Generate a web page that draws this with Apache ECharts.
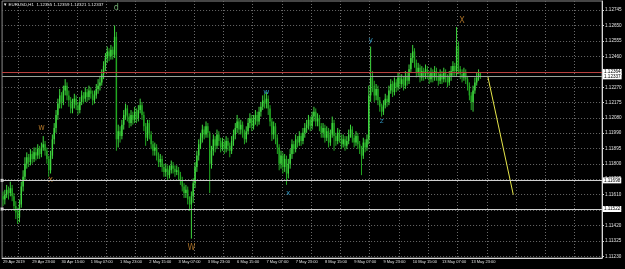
<!DOCTYPE html>
<html>
<head>
<meta charset="utf-8">
<script src="https://cdn.jsdelivr.net/npm/echarts@6/dist/echarts.min.js"></script>
<style>
html, body { margin: 0; padding: 0; background: #000; }
#chart { width: 625px; height: 269px; }
</style>
</head>
<body>
<div id="chart"></div>
<script>
// EURUSD H1, first bar 29 Apr 2019 07:00 (open of bar 0, later opens = previous close)
const firstOpen = 1.1160;
const closes = [
  1.1158,1.1161,1.1164,1.1162,1.1165,1.1160,1.1154,1.1150,1.1147,1.1155,
  1.1166,1.1172,1.1180,1.1184,1.1181,1.1186,1.1183,1.1187,1.1185,1.1189,
  1.1186,1.1190,1.1192,1.1188,1.1183,1.1176,1.1185,1.1195,1.1202,1.1210,
  1.1217,1.1222,1.1218,1.1225,1.1228,1.1222,1.1219,1.1214,1.1217,1.1220,
  1.1216,1.1213,1.1218,1.1222,1.1220,1.1224,1.1221,1.1225,1.1223,1.1219,
  1.1222,1.1226,1.1228,1.1230,1.1235,1.1240,1.1245,1.1249,1.1246,1.1250,
  1.1247,1.1258,1.1195,1.1200,1.1197,1.1204,1.1210,1.1214,1.1209,1.1205,
  1.1210,1.1207,1.1212,1.1208,1.1213,1.1216,1.1210,1.1203,1.1196,1.1205,
  1.1198,1.1192,1.1188,1.1190,1.1185,1.1181,1.1183,1.1178,1.1175,1.1177,
  1.1173,1.1176,1.1179,1.1177,1.1175,1.1176,1.1173,1.1170,1.1166,1.1162,
  1.1164,1.1158,1.1155,1.1160,1.1168,1.1178,1.1185,1.1192,1.1196,1.1201,
  1.1198,1.1203,1.1199,1.1180,1.1188,1.1195,1.1191,1.1198,1.1194,1.1190,
  1.1193,1.1189,1.1194,1.1191,1.1188,1.1194,1.1198,1.1202,1.1206,1.1201,
  1.1204,1.1199,1.1195,1.1200,1.1205,1.1208,1.1203,1.1207,1.1210,1.1206,
  1.1212,1.1215,1.1219,1.1217,1.1220,1.1214,1.1206,1.1198,1.1203,1.1196,
  1.1190,1.1180,1.1185,1.1178,1.1183,1.1174,1.1180,1.1186,1.1192,1.1189,
  1.1195,1.1193,1.1197,1.1194,1.1199,1.1202,1.1204,1.1207,1.1203,1.1209,
  1.1212,1.1206,1.1208,1.1203,1.1199,1.1202,1.1196,1.1200,1.1193,1.1198,
  1.1205,1.1197,1.1194,1.1199,1.1196,1.1192,1.1195,1.1191,1.1194,1.1198,
  1.1201,1.1196,1.1193,1.1197,1.1192,1.1189,1.1185,1.1193,1.1190,1.1195,
  1.1222,1.1233,1.1228,1.1222,1.1226,1.1219,1.1215,1.1212,1.1216,1.1220,
  1.1218,1.1225,1.1229,1.1224,1.1230,1.1227,1.1233,1.1229,1.1232,1.1228,
  1.1234,1.1231,1.1238,1.1245,1.1249,1.1242,1.1236,1.1239,1.1233,1.1237,
  1.1234,1.1238,1.1235,1.1232,1.1236,1.1233,1.1237,1.1234,1.1231,1.1235,
  1.1232,1.1236,1.1233,1.1230,1.1234,1.1237,1.1240,1.1237,1.1252,1.1238,
  1.1235,1.1233,1.1236,1.1232,1.1228,1.1222,1.1218,1.1225,1.1230,1.1233,
  1.12355,1.12337
];
const highs = [
  1.1163,1.1164,1.1167,1.1166,1.1169,1.1167,1.1162,1.1157,1.1153,1.1158,
  1.1169,1.1176,1.1184,1.1187,1.1186,1.1189,1.1188,1.1190,1.1190,1.1192,
  1.1191,1.1193,1.1197,1.1194,1.1190,1.1185,1.1188,1.1198,1.1205,1.1213,
  1.1220,1.1226,1.1224,1.1228,1.1232,1.1230,1.1225,1.1221,1.1220,1.1223,
  1.1222,1.1218,1.1221,1.1225,1.1224,1.1227,1.1226,1.1228,1.1227,1.1225,
  1.1225,1.1229,1.1232,1.1234,1.1238,1.1243,1.1248,1.1252,1.1251,1.1253,
  1.1252,1.1265,1.1261,1.1204,1.1203,1.1207,1.1213,1.1217,1.1216,1.1211,
  1.1213,1.1212,1.1215,1.1214,1.1216,1.1220,1.1218,1.1212,1.1205,1.1207,
  1.1207,1.1200,1.1194,1.1193,1.1192,1.1187,1.1186,1.1185,1.1180,1.1180,
  1.1179,1.1179,1.1182,1.1181,1.1179,1.1179,1.1178,1.1175,1.1172,1.1168,
  1.1167,1.1166,1.1160,1.1163,1.1171,1.1181,1.1188,1.1195,1.1199,1.1204,
  1.1203,1.1206,1.1205,1.1200,1.1191,1.1198,1.1197,1.1201,1.1200,1.1196,
  1.1196,1.1195,1.1197,1.1196,1.1193,1.1197,1.1201,1.1205,1.1210,1.1208,
  1.1207,1.1206,1.1201,1.1203,1.1208,1.1211,1.1210,1.1210,1.1213,1.1212,
  1.1215,1.1218,1.1222,1.1223,1.1224,1.1222,1.1216,1.1208,1.1206,1.1205,
  1.1198,1.1192,1.1188,1.1187,1.1186,1.1185,1.1183,1.1189,1.1195,1.1194,
  1.1198,1.1197,1.1200,1.1199,1.1202,1.1205,1.1207,1.1210,1.1209,1.1212,
  1.1215,1.1214,1.1211,1.1210,1.1205,1.1205,1.1204,1.1203,1.1202,1.1201,
  1.1209,1.1207,1.1199,1.1202,1.1201,1.1198,1.1198,1.1197,1.1197,1.1201,
  1.1204,1.1203,1.1198,1.1200,1.1199,1.1194,1.1191,1.1196,1.1195,1.1198,
  1.1228,1.1252,1.1237,1.1231,1.1229,1.1228,1.1221,1.1217,1.1219,1.1223,
  1.1222,1.1228,1.1232,1.1231,1.1233,1.1232,1.1236,1.1235,1.1235,1.1234,
  1.1237,1.1236,1.1241,1.1248,1.1253,1.1251,1.1244,1.1242,1.1241,1.1240,
  1.1239,1.1241,1.1240,1.1237,1.1239,1.1238,1.1240,1.1239,1.1236,1.1238,
  1.1237,1.1239,1.1238,1.1235,1.1237,1.1240,1.1243,1.1242,1.1264,1.1255,
  1.1240,1.1238,1.1239,1.1238,1.1234,1.1230,1.1224,1.1228,1.1233,1.1236,
  1.1238,1.12359
];
const lows = [
  1.1154,1.1155,1.1159,1.1158,1.1160,1.1157,1.1151,1.1146,1.1143,1.1144,
  1.1153,1.1163,1.1170,1.1177,1.1178,1.1179,1.1180,1.1181,1.1182,1.1183,
  1.1183,1.1184,1.1188,1.1185,1.1180,1.1172,1.1174,1.1183,1.1192,1.1199,
  1.1207,1.1214,1.1214,1.1216,1.1222,1.1219,1.1215,1.1211,1.1211,1.1214,
  1.1213,1.1210,1.1211,1.1216,1.1217,1.1218,1.1218,1.1219,1.1220,1.1216,
  1.1217,1.1220,1.1223,1.1225,1.1228,1.1232,1.1237,1.1242,1.1243,1.1244,
  1.1244,1.1245,1.1188,1.1190,1.1193,1.1195,1.1201,1.1207,1.1206,1.1202,
  1.1203,1.1204,1.1205,1.1205,1.1206,1.1211,1.1207,1.1200,1.1191,1.1194,
  1.1195,1.1189,1.1185,1.1185,1.1182,1.1178,1.1178,1.1175,1.1172,1.1172,
  1.1170,1.1171,1.1174,1.1174,1.1172,1.1173,1.1170,1.1167,1.1163,1.1159,
  1.1159,1.1155,1.1151,1.1134,1.1156,1.1165,1.1175,1.1182,1.1189,1.1193,
  1.1195,1.1196,1.1196,1.1162,1.1177,1.1185,1.1187,1.1189,1.1191,1.1187,
  1.1188,1.1186,1.1187,1.1188,1.1184,1.1186,1.1191,1.1195,1.1199,1.1198,
  1.1198,1.1196,1.1192,1.1193,1.1198,1.1202,1.1200,1.1201,1.1204,1.1203,
  1.1204,1.1209,1.1213,1.1214,1.1214,1.1210,1.1203,1.1194,1.1195,1.1192,
  1.1186,1.1176,1.1177,1.1174,1.1175,1.1167,1.1171,1.1177,1.1183,1.1186,
  1.1187,1.1190,1.1191,1.1191,1.1192,1.1196,1.1199,1.1201,1.1200,1.1201,
  1.1206,1.1203,1.1203,1.1200,1.1196,1.1196,1.1193,1.1194,1.1190,1.1191,
  1.1196,1.1188,1.1191,1.1192,1.1193,1.1189,1.1190,1.1188,1.1189,1.1192,
  1.1196,1.1193,1.1190,1.1191,1.1189,1.1186,1.1173,1.1183,1.1187,1.1188,
  1.1192,1.1218,1.1224,1.1218,1.1219,1.1216,1.1212,1.1209,1.1210,1.1214,
  1.1215,1.1216,1.1223,1.1221,1.1222,1.1224,1.1225,1.1226,1.1227,1.1225,
  1.1226,1.1228,1.1229,1.1236,1.1242,1.1239,1.1233,1.1234,1.1230,1.1231,
  1.1231,1.1232,1.1232,1.1229,1.1230,1.1230,1.1231,1.1231,1.1228,1.1229,
  1.1229,1.1230,1.1230,1.1227,1.1228,1.1231,1.1234,1.1234,1.1234,1.1235,
  1.1232,1.1230,1.1231,1.1229,1.1225,1.1219,1.1213,1.1212,1.1223,1.1228,
  1.1231,1.12321
];

// price scale labels as printed on the right
const priceTicks = [1.11230, 1.11325, 1.11420, 1.11515, 1.11610, 1.11705, 1.11800, 1.11895,
  1.11990, 1.12080, 1.12175, 1.12270, 1.12365, 1.12460, 1.12555, 1.12650, 1.12745];

// horizontal levels
const supportLevels = [1.11698, 1.11522];
const quoteLevels = [1.12364, 1.12337];
const quoteColors = ['#b8413f', '#9aa39a'];

// yellow projection line
const projIdx = [265, 279];
const projPrice = [1.1234, 1.1161];

// wave labels [bar index, price, text]
const orangeLabels = [[21, 1.1202, 'w'], [26, 1.1170, 'x'], [103, 1.1128, 'W'], [251, 1.1268, 'X']];
const cyanLabels = [[144, 1.1224, 'w'], [156, 1.1162, 'x'], [201, 1.1256, 'y'], [207, 1.1206, 'z']];
const greenLabels = [[62, 1.12757, 'd']];

const months = ['Jan','Feb','Mar','Apr','May','Jun','Jul','Aug','Sep','Oct','Nov','Dec'];
const times = [];
let t = Date.UTC(2019, 3, 29, 7);
while (times.length < 328) {
    const d = new Date(t);
    if (d.getUTCDay() === 6) { t += 48 * 3600e3; continue; }
    times.push(d.getUTCDate() + ' ' + months[d.getUTCMonth()] + ' ' +
        String(d.getUTCHours()).padStart(2, '0') + ':00');
    t += 3600e3;
}

const opens = closes.map((c, i) => i ? closes[i - 1] : firstOpen);
const bars = closes.map((c, i) => [i, opens[i], c, lows[i], highs[i]]);

const bullColor = '#3fd83f';
const bearColor = '#22a822';

// plain MT4 style candle: wick line + thin body
function renderBar(params, api) {
    const i = api.value(0);
    const o = api.value(1), c = api.value(2);
    const hi = api.coord([i, api.value(4)]);
    const lo = api.coord([i, api.value(3)]);
    const top = api.coord([i, Math.max(o, c)]);
    const bot = api.coord([i, Math.min(o, c)]);
    const col = c >= o ? bullColor : bearColor;
    return {
        type: 'group',
        children: [
            { type: 'line', shape: { x1: hi[0], y1: hi[1], x2: lo[0], y2: lo[1] }, style: { stroke: col, lineWidth: 1 } },
            { type: 'rect', shape: { x: top[0] - 0.7, y: top[1], width: 1.4, height: Math.max(bot[1] - top[1], 0.6) }, style: { fill: col } }
        ]
    };
}

const font = 'Liberation Sans';
const levelLabel = {
    show: true, position: 'end', distance: 1,
    formatter: p => Number(p.value).toFixed(5),
    color: '#000', backgroundColor: '#fff', fontSize: 4.6, fontFamily: font,
    padding: [0.5, 1]
};

const textSeries = (data, color, size) => ({
    type: 'scatter',
    data: data,
    symbolSize: 0,
    silent: true,
    label: {
        show: true, position: 'inside', formatter: p => p.data[2],
        color: color, fontSize: size, fontFamily: 'DejaVu Sans'
    }
});

const chart = echarts.init(document.getElementById('chart'));
chart.setOption({
    backgroundColor: '#000',
    animation: false,
    title: {
        text: '\u25BC EURUSD,H1  1.12355 1.12359 1.12321 1.12337',
        left: 3, top: 3, padding: 0,
        textStyle: { color: '#e8e8e8', fontSize: 4.4, fontWeight: 'normal', fontFamily: font }
    },
    grid: { left: 1, right: 23, top: 1, bottom: 11, show: true, borderColor: '#8a8a8a', borderWidth: 1 },
    xAxis: {
        type: 'category',
        data: times,
        boundaryGap: true,
        axisLine: { lineStyle: { color: '#d8d8d8' } },
        axisTick: { interval: 15, length: 2, alignWithLabel: true, lineStyle: { color: '#d8d8d8' } },
        axisLabel: {
            interval: 15, align: 'left', margin: 2, fontSize: 4, color: '#e0e0e0', fontFamily: font,
            formatter: (v, i) => i === 0 ? '29 Apr 2019' : (i < closes.length ? v : '')
        },
        splitLine: { show: true, interval: i => i % 16 === 9, lineStyle: { color: '#6a6a6a', type: [1, 2] } }
    },
    yAxis: {
        type: 'value',
        position: 'right',
        min: 1.11221,
        max: 1.12800,
        axisLine: { show: true, lineStyle: { color: '#d8d8d8' } },
        axisTick: { show: true, customValues: priceTicks, length: 2, lineStyle: { color: '#d8d8d8' } },
        axisLabel: {
            customValues: priceTicks, formatter: v => v.toFixed(5),
            fontSize: 4.6, color: '#e0e0e0', margin: 3, fontFamily: font
        },
        splitLine: { show: true, lineStyle: { color: '#6a6a6a', type: [1, 2] } }
    },
    series: [
        {
            type: 'custom',
            data: bars,
            encode: { x: 0, y: [1, 2, 3, 4] },
            renderItem: renderBar,
            silent: true,
            markLine: {
                silent: true,
                precision: 5,
                symbol: ['rect', 'none'],
                symbolSize: 3,
                lineStyle: { color: '#d0d0d0', type: 'solid', width: 1 },
                label: levelLabel,
                data: supportLevels.map(v => ({ yAxis: v }))
            }
        },
        {
            type: 'line',
            data: projIdx.map((x, k) => [x, projPrice[k]]),
            symbol: 'none',
            lineStyle: { color: '#e6e64a', width: 1 },
            markLine: {
                silent: true,
                precision: 5,
                symbol: 'none',
                label: levelLabel,
                data: quoteLevels.map((v, k) => ({
                    yAxis: v, lineStyle: { color: quoteColors[k], type: 'solid', width: 1 }
                }))
            }
        },
        textSeries(orangeLabels, '#d08a30', 8),
        textSeries(cyanLabels, '#3aaee0', 7.5),
        textSeries(greenLabels, '#8fd88f', 8)
    ]
});
</script>
</body>
</html>
